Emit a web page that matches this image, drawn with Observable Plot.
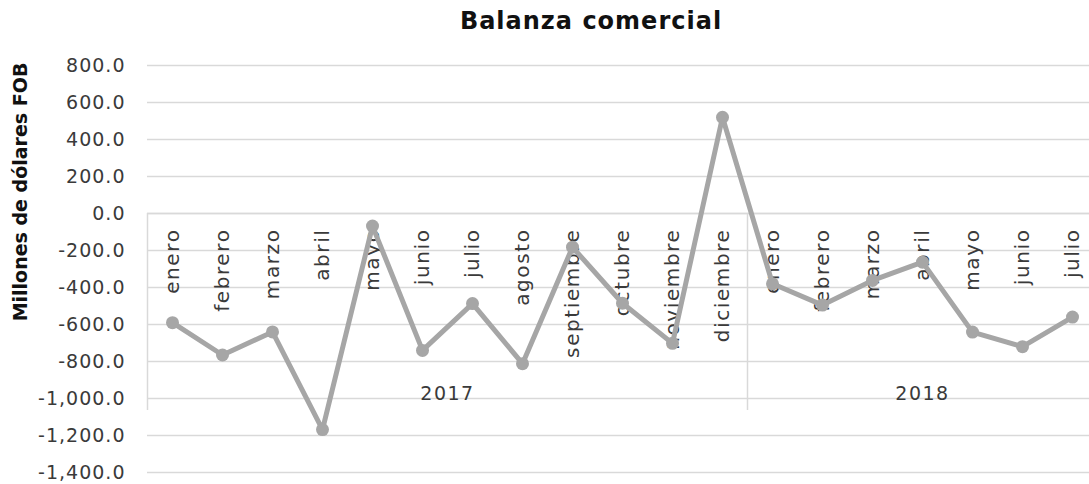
<!DOCTYPE html>
<html>
<head>
<meta charset="utf-8">
<script src="https://cdn.jsdelivr.net/npm/d3@7"></script>
<script src="https://cdn.jsdelivr.net/npm/@observablehq/plot@0.6"></script>
<style>
  html, body { margin: 0; padding: 0; background: #fff; }
  #wrap { width: 1089px; height: 484px; overflow: hidden; position: relative; }
  #title { height: 40px; line-height: 42px; text-align: center; font-family: "DejaVu Sans", sans-serif; font-weight: bold; font-size: 24px; letter-spacing: 1px; color: #111; padding-left: 93px; box-sizing: border-box; }
  #ylabel { position: absolute; left: 20px; top: 192px; transform: translate(-50%, -50%) rotate(-90deg); white-space: nowrap; font-family: "DejaVu Sans", sans-serif; font-weight: bold; font-size: 19px; color: #111; }
  #chart svg { display: block; overflow: hidden; }
  #chart svg .ticklbl text { letter-spacing: 1px; }
  #chart svg .yearlbl text { letter-spacing: 1.5px; }
  #chart svg .monthlbl text { letter-spacing: 1.6px; }
</style>
</head>
<body>
<div id="wrap">
  <div id="title">Balanza comercial</div>
  <div id="chart"></div>
  <div id="ylabel">Millones de dólares FOB</div>
</div>
<script>
// Data
const months = ["enero","febrero","marzo","abril","mayo","junio","julio","agosto","septiembre","octubre","noviembre","diciembre",
                "enero","febrero","marzo","abril","mayo","junio","julio"];
const years = ["2017","2017","2017","2017","2017","2017","2017","2017","2017","2017","2017","2017",
               "2018","2018","2018","2018","2018","2018","2018"];
const values = [-590, -765, -640, -1168, -68, -740, -487, -812, -182, -485, -702, 520,
                -380, -495, -362, -263, -641, -720, -560];
const yTicks = [800, 600, 400, 200, 0, -200, -400, -600, -800, -1000, -1200, -1400];
const yearLabels = ["2017", "2018"];

const data = values.map((v, i) => ({i, month: months[i], year: years[i], value: v}));
const yearGroups = yearLabels.map(y => {
  const idx = data.filter(d => d.year === y).map(d => d.i);
  return {year: y, start: d3.min(idx) - 0.5, end: d3.max(idx) + 0.5, mid: (d3.min(idx) + d3.max(idx)) / 2};
});
const separators = [yearGroups[0].start, ...yearGroups.map(g => g.end)];

const fmt = d3.formatLocale({decimal: ".", thousands: ",", grouping: [3], currency: ["$", ""], minus: "-"}).format(",.1f");

const font = "'DejaVu Sans', sans-serif";
const txt = "#3a3a3a";
const gray = "#a6a6a6";
const axisDepth = -1065;

const chart = Plot.plot({
  width: 1089,
  height: 444,
  marginLeft: 147,
  marginRight: -8,
  marginTop: 25,
  marginBottom: 12,
  style: {fontFamily: font, fontSize: "19px", color: txt, background: "#fff"},
  x: {type: "linear", domain: [-0.5, months.length - 0.5], axis: null},
  y: {domain: [-1400, 800], ticks: yTicks, tickFormat: fmt, label: null, tickSize: 0, tickPadding: 22},
  marks: [
    Plot.gridY(yTicks, {stroke: "#d9d9d9", strokeOpacity: 1, strokeWidth: 1.5}),
    Plot.ruleX(separators, {y1: 0, y2: axisDepth, stroke: "#d9d9d9", strokeWidth: 1.5}),
    Plot.ruleY([0], {stroke: "#d9d9d9", strokeWidth: 1.5}),
    Plot.text(data, {x: "i", y: () => 0, text: "month", rotate: -90, textAnchor: "end", lineAnchor: "middle", dy: 15, fill: txt, fontSize: 20, className: "monthlbl"}),
    Plot.text(yearGroups, {x: "mid", y: () => 0, text: "year", dy: 180, fill: txt, fontSize: 19, className: "yearlbl"}),
    Plot.line(data, {x: "i", y: "value", stroke: gray, strokeWidth: 5}),
    Plot.dot(data, {x: "i", y: "value", r: 6.5, fill: gray, stroke: "none"}),
    Plot.axisY({ticks: yTicks, tickFormat: fmt, tickSize: 0, tickPadding: 22, label: null, fill: txt, fontSize: 19, className: "ticklbl"})
  ]
});
document.getElementById("chart").appendChild(chart);
</script>
</body>
</html>
